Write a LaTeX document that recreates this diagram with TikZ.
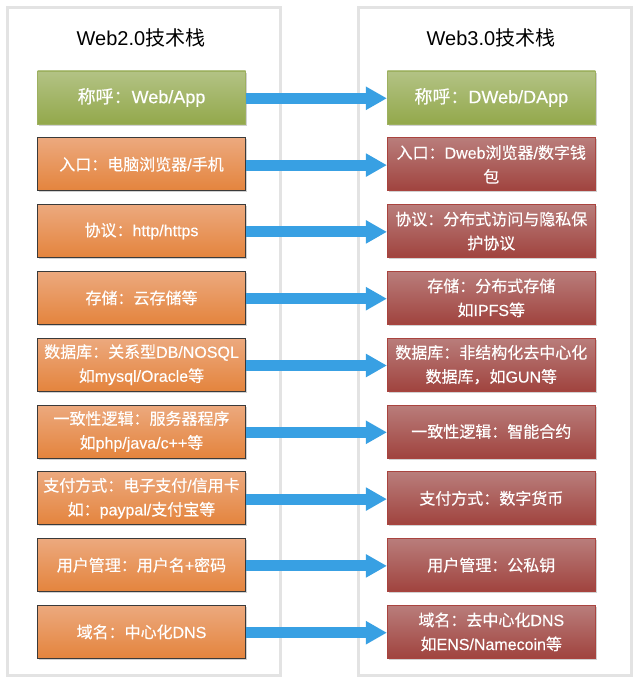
\documentclass[tikz,border=0pt]{standalone}
\usepackage{fontspec}
\setmainfont{Noto Sans CJK SC}[FakeBold=0.35]
\newfontfamily\en{Liberation Sans}[FakeBold=0.35]
\newfontfamily\tten{Liberation Sans}
\newfontfamily\ttcjk{Noto Sans CJK SC}
\usetikzlibrary{arrows.meta,shadows}
\definecolor{panelgray}{HTML}{E3E3E3}
\definecolor{gtop}{HTML}{B3C385}
\definecolor{gbot}{HTML}{93A84B}
\definecolor{gline}{HTML}{9DB060}
\definecolor{otop}{HTML}{ECA97E}
\definecolor{obot}{HTML}{E4843D}
\definecolor{oline}{HTML}{3A3A3A}
\definecolor{rtop}{HTML}{B97D7B}
\definecolor{rbot}{HTML}{A0433E}
\definecolor{rline}{HTML}{A9443F}
\definecolor{arrblue}{HTML}{38A0E3}
\tikzset{
  panel/.style={draw=panelgray, line width=3pt, fill=white, minimum width=273pt, minimum height=667pt, inner sep=0pt},
  title/.style={font=\ttcjk\fontsize{20}{24}\selectfont, text=black, inner sep=0pt},
  box/.style={minimum width=208pt, minimum height=53pt, inner sep=0pt, text=white, align=center,
    font=\fontsize{16}{24}\selectfont, line width=0.8pt,
    drop shadow={shadow xshift=1.5pt, shadow yshift=-1.5pt, fill=black, opacity=0.18}},
  gbox/.style={box, draw=gline, top color=gtop, bottom color=gbot, font=\fontsize{18}{24}\selectfont},
  obox/.style={box, draw=oline, top color=otop, bottom color=obot},
  rbox/.style={box, draw=rline, top color=rtop, bottom color=rbot},
  arr/.style={draw=arrblue, line width=11pt, -{Triangle[length=21pt, width=22pt, fill=arrblue]}},
}
\begin{document}
\begin{tikzpicture}[x=1pt, y=-1pt]
\useasboundingbox (0,0) rectangle (637,677);
\node[panel] (p1) at (143.5,341.5) {};
\node[panel] (p2) at (494.5,341.5) {};
\node[title] (t1) at (141,37.5) {{\tten Web2.0}技术栈};
\node[title] (t2) at (491,37.5) {{\tten Web3.0}技术栈};
% left column
\node[gbox] (l1) at (141.5,97.5) {称呼：{\en Web/App}};
\node[obox] (l2) at (141.5,164.3) {入口：电脑浏览器{\en /}手机};
\node[obox] (l3) at (141.5,231.1) {协议：{\en http/https}};
\node[obox] (l4) at (141.5,297.9) {存储：云存储等};
\node[obox] (l5) at (141.5,364.7) {数据库：关系型{\en DB/NOSQL}\\如{\en mysql/Oracle}等};
\node[obox] (l6) at (141.5,431.5) {一致性逻辑：服务器程序\\如{\en php/java/c++}等};
\node[obox] (l7) at (141.5,498.3) {支付方式：电子支付{\en /}信用卡\\如：{\en paypal/}支付宝等};
\node[obox] (l8) at (141.5,565.1) {用户管理：用户名{\en +}密码};
\node[obox] (l9) at (141.5,631.9) {域名：中心化{\en DNS}};
% right column
\node[gbox] (r1) at (491.3,97.5) {称呼：{\en DWeb/DApp}};
\node[rbox] (r2) at (491.3,164.3) {入口：{\en Dweb}浏览器{\en /}数字钱\\包};
\node[rbox] (r3) at (491.3,231.1) {协议：分布式访问与隐私保\\护协议};
\node[rbox] (r4) at (491.3,297.9) {存储：分布式存储\\如{\en IPFS}等};
\node[rbox] (r5) at (491.3,364.7) {数据库：非结构化去中心化\\数据库，如{\en GUN}等};
\node[rbox] (r6) at (491.3,431.5) {一致性逻辑：智能合约};
\node[rbox] (r7) at (491.3,498.3) {支付方式：数字货币};
\node[rbox] (r8) at (491.3,565.1) {用户管理：公私钥};
\node[rbox] (r9) at (491.3,631.9) {域名：去中心化{\en DNS}\\如{\en ENS/Namecoin}等};
% arrows
\foreach \i in {1,...,9}{
  \draw[arr] ([yshift=-0.8pt]l\i.east) -- ([yshift=-0.8pt]r\i.west);
}
\end{tikzpicture}
\end{document}
